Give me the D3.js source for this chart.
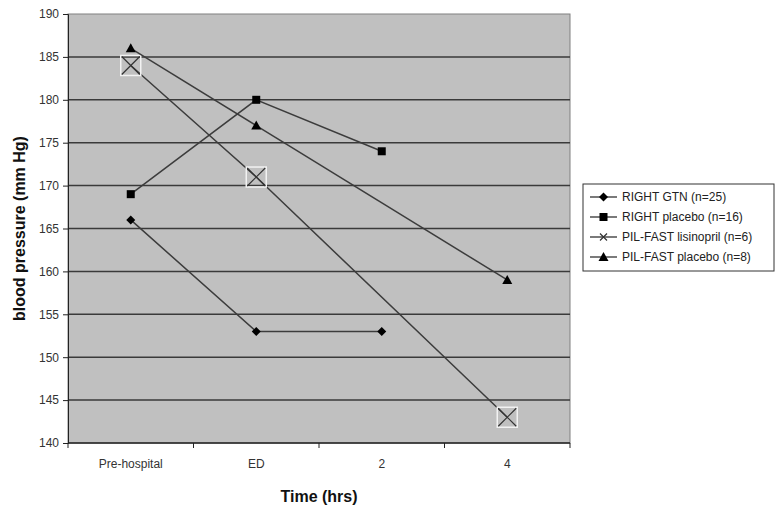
<!DOCTYPE html>
<html>
<head>
<meta charset="utf-8">
<script src="https://cdn.jsdelivr.net/npm/d3@7"></script>
<style>
body { margin: 0; background: #fff; }
text { font-family: "Liberation Sans", Arial, sans-serif; }
</style>
</head>
<body>
<div id="vis"></div>
<script>
// data
var categories = ['Pre-hospital', 'ED', '2', '4'];
var yTicks = [140, 145, 150, 155, 160, 165, 170, 175, 180, 185, 190];
var seriesNames = ['RIGHT GTN (n=25)', 'RIGHT placebo (n=16)', 'PIL-FAST lisinopril (n=6)', 'PIL-FAST placebo (n=8)'];
var rightGtn = [166, 153, 153, null];
var rightPlacebo = [169, 180, 174, null];
var pilLisinopril = [184, 171, null, 143];
var pilPlacebo = [186, 177, null, 159];
var markers = ['diamond', 'square', 'cross', 'triangle'];

var width = 776, height = 514;
var margin = { left: 68, top: 14, right: 206, bottom: 71 };
var plotW = width - margin.left - margin.right;
var plotH = height - margin.top - margin.bottom;

var svg = d3.select('#vis').append('svg')
    .attr('width', width)
    .attr('height', height);

var g = svg.append('g')
    .attr('transform', 'translate(' + margin.left + ',' + margin.top + ')');

var x = d3.scaleBand().domain(categories).range([0, plotW]);
var y = d3.scaleLinear().domain([140, 190]).range([plotH, 0]);

// plot background
g.append('rect')
    .attr('width', plotW)
    .attr('height', plotH)
    .attr('fill', '#c0c0c0')
    .attr('stroke', '#808080')
    .attr('stroke-width', 1);

// grid lines
g.selectAll('.grid')
    .data(yTicks.filter(function(d) { return d > 140 && d < 190; }))
    .enter().append('line')
    .attr('class', 'grid')
    .attr('x1', 0).attr('x2', plotW)
    .attr('y1', function(d) { return y(d); })
    .attr('y2', function(d) { return y(d); })
    .attr('stroke', '#3a3a3a')
    .attr('stroke-width', 1.5);

// y axis
var yAxis = g.append('g')
    .call(d3.axisLeft(y).tickValues(yTicks).tickSize(5).tickPadding(4));
yAxis.select('.domain').attr('stroke', '#222');
yAxis.selectAll('line').attr('stroke', '#222');
yAxis.selectAll('text').attr('font-size', 12).attr('fill', '#333');

// x axis, ticks on band edges
var xAxisG = g.append('g').attr('transform', 'translate(0,' + plotH + ')');
xAxisG.append('line')
    .attr('x1', 0).attr('x2', plotW)
    .attr('stroke', '#222').attr('stroke-width', 1.5);
xAxisG.selectAll('.xt')
    .data(categories.concat(['end']))
    .enter().append('line')
    .attr('x1', function(d, i) { return i * x.bandwidth(); })
    .attr('x2', function(d, i) { return i * x.bandwidth(); })
    .attr('y1', 0).attr('y2', 5)
    .attr('stroke', '#222');
xAxisG.selectAll('.xl')
    .data(categories)
    .enter().append('text')
    .attr('x', function(d) { return x(d) + x.bandwidth() / 2; })
    .attr('y', 25)
    .attr('text-anchor', 'middle')
    .attr('font-size', 12)
    .attr('fill', '#333')
    .text(function(d) { return d; });

// axis titles
svg.append('text')
    .attr('x', margin.left + plotW / 2)
    .attr('y', 502)
    .attr('text-anchor', 'middle')
    .attr('font-size', 16)
    .attr('font-weight', 'bold')
    .attr('fill', '#111')
    .text('Time (hrs)');

svg.append('text')
    .attr('transform', 'translate(25,' + (margin.top + plotH / 2) + ') rotate(-90)')
    .attr('text-anchor', 'middle')
    .attr('font-size', 16)
    .attr('font-weight', 'bold')
    .attr('fill', '#111')
    .text('blood pressure (mm Hg)');

// series
var allSeries = [rightGtn, rightPlacebo, pilLisinopril, pilPlacebo];

function cx(i) { return x(categories[i]) + x.bandwidth() / 2; }

var line = d3.line()
    .x(function(d) { return cx(d.i); })
    .y(function(d) { return y(d.v); });

function drawMarker(sel, type, px, py, big) {
    if (type === 'diamond') {
        sel.append('path')
            .attr('d', 'M' + px + ',' + (py - 4.5) + 'L' + (px + 4.5) + ',' + py +
                'L' + px + ',' + (py + 4.5) + 'L' + (px - 4.5) + ',' + py + 'Z')
            .attr('fill', '#000');
    } else if (type === 'square') {
        sel.append('rect')
            .attr('x', px - 4).attr('y', py - 4)
            .attr('width', 8).attr('height', 8)
            .attr('fill', '#000');
    } else if (type === 'triangle') {
        sel.append('path')
            .attr('d', 'M' + px + ',' + (py - 5) + 'L' + (px + 5) + ',' + (py + 4) + 'L' + (px - 5) + ',' + (py + 4) + 'Z')
            .attr('fill', '#000');
    } else if (type === 'cross') {
        var s = big ? 9 : 3.5;
        if (big) {
            sel.append('rect')
                .attr('x', px - 10).attr('y', py - 10)
                .attr('width', 20).attr('height', 20)
                .attr('fill', 'none')
                .attr('stroke', '#f2f2f2')
                .attr('stroke-width', 1.5);
        }
        sel.append('path')
            .attr('d', 'M' + (px - s) + ',' + (py - s) + 'L' + (px + s) + ',' + (py + s) +
                'M' + (px - s) + ',' + (py + s) + 'L' + (px + s) + ',' + (py - s))
            .attr('stroke', '#333')
            .attr('stroke-width', 1.2)
            .attr('fill', 'none');
    }
}

allSeries.forEach(function(vals, k) {
    var pts = [];
    vals.forEach(function(v, i) { if (v !== null) pts.push({ i: i, v: v }); });
    g.append('path')
        .datum(pts)
        .attr('d', line)
        .attr('fill', 'none')
        .attr('stroke', '#3c3c3c')
        .attr('stroke-width', 1.5);
    var mg = g.append('g');
    pts.forEach(function(p) { drawMarker(mg, markers[k], cx(p.i), y(p.v), true); });
});

// legend
var lg = svg.append('g').attr('transform', 'translate(583,184)');
lg.append('rect')
    .attr('width', 191).attr('height', 87)
    .attr('fill', '#fff')
    .attr('stroke', '#333')
    .attr('stroke-width', 1);
seriesNames.forEach(function(name, k) {
    var ly = 13 + k * 20;
    lg.append('line')
        .attr('x1', 7).attr('x2', 34)
        .attr('y1', ly).attr('y2', ly)
        .attr('stroke', '#222').attr('stroke-width', 1.2);
    drawMarker(lg, markers[k], 20.5, ly, false);
    lg.append('text')
        .attr('x', 39).attr('y', ly + 4)
        .attr('font-size', 12)
        .attr('fill', '#222')
        .text(name);
});
</script>
</body>
</html>
